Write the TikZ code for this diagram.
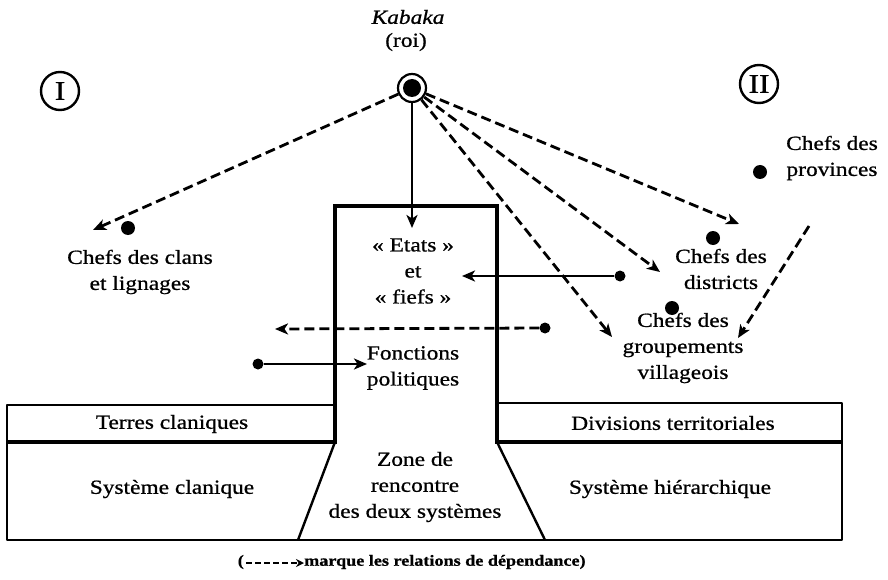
\documentclass[tikz,border=0pt]{standalone}
\usepackage{fontspec}
\setmainfont{Liberation Serif}[FakeStretch=1.17,FakeBold=0.8]
\usetikzlibrary{arrows.meta}
\begin{document}
\begin{tikzpicture}[x=1pt,y=-1pt,
  txt/.style={font=\fontsize{20}{26}\selectfont, align=center, inner sep=0pt},
  capt/.style={font=\fontsize{15.5}{18}\selectfont\bfseries, inner sep=0pt},
  numc/.style={circle, draw, line width=2.4pt, minimum size=38pt, inner sep=0pt, font=\fontsize{27}{27}\selectfont},
  chefdot/.style={circle, fill, minimum size=14pt, inner sep=0pt},
  enddot/.style={circle, fill, minimum size=11pt, inner sep=0pt},
  tipA/.tip={Stealth[length=13pt,width=11pt,inset=3.5pt]},
  dep/.style={line width=2.8pt, dash pattern=on 10pt off 5pt, -tipA},
  rel/.style={line width=2.8pt, -tipA},
  wall/.style={line width=4.5pt},
  band/.style={line width=2.4pt}
]
\useasboundingbox (0,0) rectangle (888,580);

% ---- structure ----
\draw[band, line join=round] (335,405) -- (7,405) -- (7,540) -- (842,540) -- (842,403) -- (497,403);
\draw[wall] (7,442) -- (335,442);
\draw[wall] (497,442) -- (842,442);
\draw[band] (335,442) -- (298,540);
\draw[band] (497,442) -- (545,540);
\draw[wall, line join=miter] (335,444) -- (335,206) -- (497,206) -- (497,444);

% ---- texts ----
\node[txt, font=\fontsize{20}{26}\selectfont\itshape] (kab) at (408,17) {Kabaka};
\node[txt] (roi) at (406,42) {(roi)};
\node[numc] (one) at (60,91) {I};
\node[numc] (two) at (759,84) {II};

\node[txt] (etats) at (413,271) {« Etats »\\et\\« fiefs »};
\node[txt] (fonc) at (413,368) {Fonctions\\politiques};
\node[txt] (zone) at (415,487) {Zone de\\rencontre\\des deux systèmes};
\node[txt] (terres) at (172,424) {Terres claniques};
\node[txt] (divis) at (673,423) {Divisions territoriales};
\node[txt] (sysc) at (172,489) {Système clanique};
\node[txt] (sysh) at (670,489) {Système hiérarchique};
\node[txt] (clans) at (140,272) {Chefs des clans\\et lignages};
\node[txt] (prov) at (832,158) {Chefs des\\provinces};
\node[txt] (distr) at (721,269) {Chefs des\\districts};
\node[txt] (group) at (683,348) {Chefs des\\groupements\\villageois};

% ---- dots ----
\node[chefdot] (dclan) at (128,228) {};
\node[chefdot] (dprov) at (760,172) {};
\node[chefdot] (ddist) at (713,238) {};
\node[chefdot] (dgrp) at (672,308) {};
\node[enddot] (dA) at (620,276) {};
\node[enddot] (dB) at (545,328) {};
\node[enddot] (dC) at (258,364) {};

% ---- king ----
\node[circle, draw, line width=2.2pt, minimum size=28pt, inner sep=0pt] (king) at (412,88) {};
\node[circle, fill, minimum size=18pt, inner sep=0pt] (kingcore) at (king.center) {};

% ---- free ends ----
\coordinate (tclan) at (93,230);
\coordinate (tdist) at (739,224);
\coordinate (tdistb) at (660,272);
\coordinate (tgrp) at (612,337);
\coordinate (tetat) at (412,228);
\coordinate (sprov) at (809,226);
\coordinate (tgrpb) at (738,338);
\coordinate (tA) at (462,276);
\coordinate (tB) at (275,329);
\coordinate (tC) at (367,364);

% ---- connectors ----
\draw[dep] (king) -- (tclan);
\draw[dep] (king) -- (tdist);
\draw[dep] (king) -- (tdistb);
\draw[dep] (king) -- (tgrp);
\draw[rel] (king) -- (tetat);
\draw[dep] (sprov) -- (tgrpb);
\draw[rel] (dA) -- (tA);
\draw[dep] (dB) -- (tB);
\draw[rel] (dC) -- (tC);

% ---- caption ----
\node[capt, anchor=east] (capl) at (244,562) {(};
\node[capt, anchor=west] (captxt) at (304,562) {marque les relations de dépendance)};
\draw[line width=2pt, dash pattern=on 6pt off 3pt, -{Stealth[length=8pt,width=8pt]}] (capl.east) ++(2,1) coordinate (capstart) (capstart) -- (captxt.west |- capstart);
\end{tikzpicture}
\end{document}
